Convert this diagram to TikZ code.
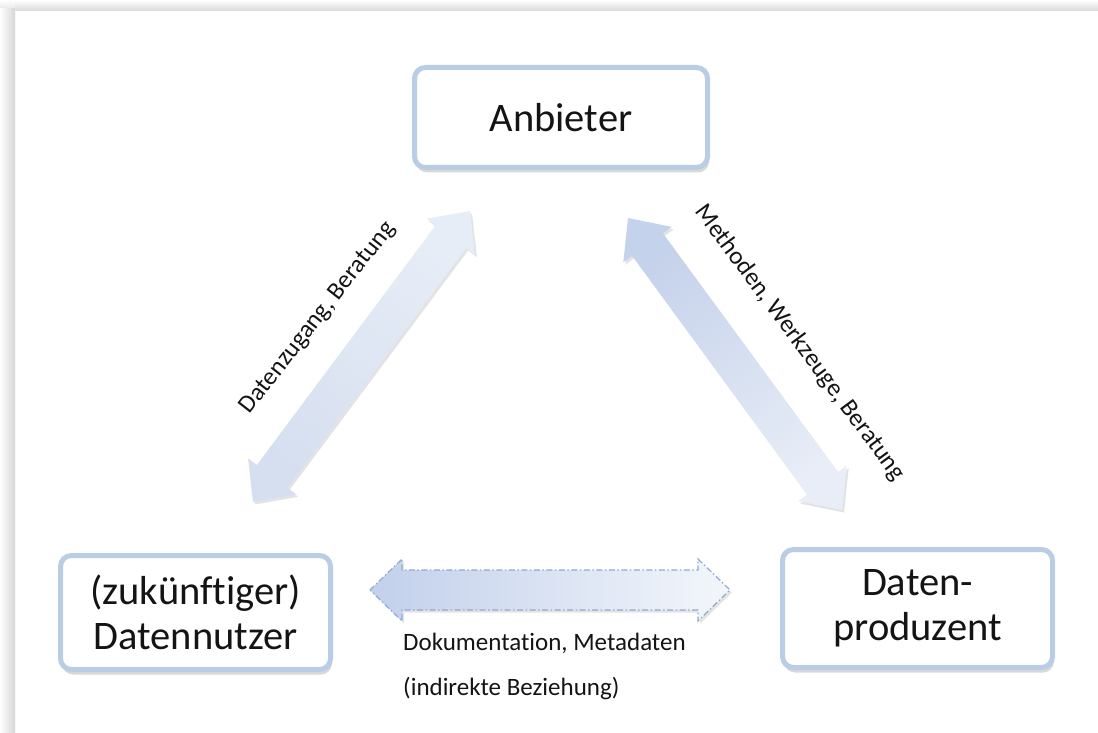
\documentclass[tikz,border=0pt]{standalone}
\usepackage{fontspec}
\setmainfont{Carlito}[Ligatures={NoCommon,NoRare}]
\usetikzlibrary{calc,shadows}

\definecolor{boxline}{HTML}{B9CDE5}
\definecolor{dashline}{HTML}{8FAAD3}
\definecolor{txt}{HTML}{141414}
\definecolor{zugLight}{HTML}{E7EDF7}
\definecolor{zugDark}{HTML}{D6DFF0}
\definecolor{methDark}{HTML}{C5D2EB}
\definecolor{methLight}{HTML}{E8EDF7}
\definecolor{docDark}{HTML}{C2D0EB}
\definecolor{docLight}{HTML}{F3F6FB}

% Broad double-headed arrow between two named points:
% #1 start, #2 end, #3 head length, #4 half head width, #5 half shaft width, #6 style
\newcommand\fatarrow[6]{%
  \path[#6] (#1)
    -- ($(#1)!#3!(#2)!#4!90:(#2)$)
    -- ($(#1)!#3!(#2)!#5!90:(#2)$)
    -- ($(#2)!#3!(#1)!#5!-90:(#1)$)
    -- ($(#2)!#3!(#1)!#4!-90:(#1)$)
    -- (#2)
    -- ($(#2)!#3!(#1)!#4!90:(#1)$)
    -- ($(#2)!#3!(#1)!#5!90:(#1)$)
    -- ($(#1)!#3!(#2)!#5!-90:(#2)$)
    -- ($(#1)!#3!(#2)!#4!-90:(#2)$)
    -- cycle;}

\begin{document}
\begin{tikzpicture}[x=1pt,y=-1pt,
  entity/.style={draw=boxline, line width=5pt, rounded corners=11pt, fill=white,
    align=center, text=txt, font=\fontsize{40.5}{45}\selectfont, inner sep=0pt,
    drop shadow={shadow xshift=1.5pt, shadow yshift=-5pt, opacity=0.3}},
  lbl/.style={text=txt, font=\fontsize{25}{30}\selectfont, inner sep=0pt},
  softshadow/.style={drop shadow={shadow xshift=2pt, shadow yshift=-2.5pt, opacity=0.22}},
]
\useasboundingbox (0,0) rectangle (1098,733);

% page with a soft shadow along the top and left edges
\fill[white] (0,0) rectangle (1098,733);
\shade[left color=white, right color=black!16] (0,8) rectangle (15,733);
\shade[top color=white, bottom color=black!15] (15,0) rectangle (1098,11);
\shade[top color=white, bottom color=black!8] (0,0) rectangle (15,8);

% the three parties
\node[entity, minimum width=293pt, minimum height=100pt] (anb) at (561,117.5) {Anbieter};
\node[entity, minimum width=270pt, minimum height=114pt] (nutz) at (195.5,612.5) {(zukünftiger)\\Datennutzer};
\node[entity, minimum width=270pt, minimum height=118pt] (prod) at (917.5,608.5) {Daten-\\produzent};

% end points of the broad arrows
\coordinate (l1) at (253,502);
\coordinate (l2) at (470,211);
\coordinate (r1) at (628,218);
\coordinate (r2) at (842,510);
\coordinate (h1) at (370,590);
\coordinate (h2) at (730,590);

\fatarrow{l1}{l2}{32pt}{30pt}{19pt}{softshadow, top color=zugLight, bottom color=zugDark, shading angle=-37}
\fatarrow{r1}{r2}{33pt}{30pt}{19pt}{softshadow, top color=methDark, bottom color=methLight, shading angle=36}
\fatarrow{h1}{h2}{32pt}{31pt}{20pt}{softshadow, left color=docDark, right color=docLight,
  draw=dashline, line width=1.2pt, dash pattern=on 6pt off 2.5pt on 1.5pt off 2.5pt}

% labels of the relations
\node[lbl, rotate=52] (lzug) at (318,318) {Datenzugang, Beratung};
\node[lbl, rotate=-53.5] (lmeth) at (800,343) {Methoden, Werkzeuge, Beratung};
\node[lbl, anchor=base west] (ldoc) at (403,650) {Dokumentation, Metadaten};
\node[lbl, anchor=base west] (lind) at (403,695) {(indirekte Beziehung)};
\end{tikzpicture}
\end{document}
